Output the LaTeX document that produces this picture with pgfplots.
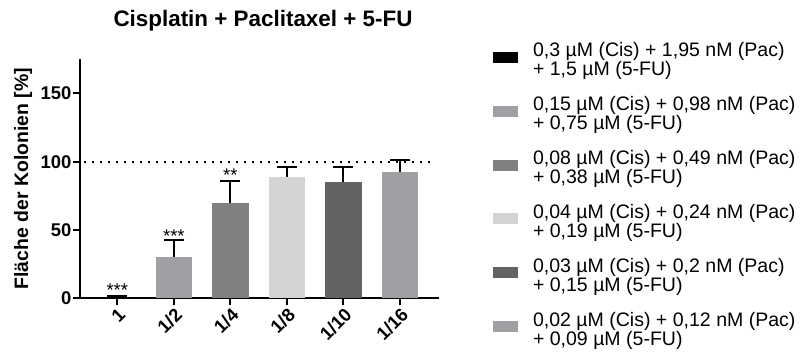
\documentclass[border=0pt]{standalone}
\usepackage{pgfplots}
\pgfplotsset{compat=1.18}
\usetikzlibrary{calc}
\usepackage{fontspec}
\setmainfont{Liberation Sans}
\definecolor{cA}{HTML}{000000}
\definecolor{cB}{HTML}{A0A0A4}
\definecolor{cC}{HTML}{808080}
\definecolor{cD}{HTML}{D4D4D4}
\definecolor{cE}{HTML}{636363}
\definecolor{cF}{HTML}{A0A0A4}
\newcommand{\lgtxt}[2]{\begin{tabular}[t]{@{}l@{}}#1\\#2\end{tabular}}
\pgfplotsset{mybar/.style={ybar, bar width=0.647, bar shift=0pt, fill=#1, draw=none,
  legend image code/.code={\path[fill=none, draw=none] (0bp,-41.5bp) rectangle (25bp,12.4bp);
    \path[fill=#1, draw=none] (0bp,-12.5bp) rectangle (25bp,-1.5bp);},
  error bars/.cd, y dir=plus, y explicit,
  error bar style={draw=black, line width=2bp, solid},
  error mark options={draw=black, line width=2bp, mark size=10bp, rotate=90, solid}}}
\begin{document}
\begin{tikzpicture}[x=1bp,y=1bp]
\begin{axis}[
  anchor=south west,
  width=359bp, height=239bp, scale only axis,
  xmin=-0.66, xmax=5.69, ymin=0, ymax=175,
  axis lines*=left,
  axis line style={line width=2bp, black},
  tick style={line width=2bp, black},
  tick align=outside, major tick length=7bp,
  xtick={0,1,2,3,4,5}, xticklabels={1,1/2,1/4,1/8,1/10,1/16},
  ytick={0,50,100,150},
  /pgf/number format/assume math mode=true,
  ticklabel style={font=\fontsize{18.5}{20}\selectfont\bfseries},
  xticklabel style={rotate=45, anchor=north east, inner sep=1bp},
  yticklabel style={inner sep=1.5bp},
  ylabel={Fläche der Kolonien [\%]},
  every axis y label/.style={at={(rel axis cs:0,0.5)}, xshift=-57bp, rotate=90, anchor=center,
    font=\fontsize{19.5}{22}\selectfont\bfseries},
  title={Cisplatin + Paclitaxel + 5-FU},
  every axis title/.style={at={(0.5,1)}, anchor=base, xshift=3.5bp, yshift=32.6bp,
    font=\fontsize{22.5}{26}\selectfont\bfseries},
  legend cell align=left,
  legend style={at={(1,1)}, anchor=north west, xshift=54bp, yshift=21.5bp,
    draw=none, fill=none, inner sep=0pt, outer sep=0pt,
    column sep=15bp, row sep=0pt,
    font=\fontsize{19.6}{17.7}\selectfont, nodes={inner sep=0pt}},
]
\coordinate (O) at (rel axis cs:0,0);
\addplot[mybar=cA] coordinates {(0,0.8) +- (0,0.7)};
\addlegendentry{\lgtxt{0,3 µM (Cis) + 1,95 nM (Pac)}{+ 1,5 µM (5-FU)}}
\addplot[mybar=cB] coordinates {(1,30) +- (0,12.8)};
\addlegendentry{\lgtxt{0,15 µM (Cis) + 0,98 nM (Pac)}{+ 0,75 µM (5-FU)}}
\addplot[mybar=cC] coordinates {(2,69.7) +- (0,16.1)};
\addlegendentry{\lgtxt{0,08 µM (Cis) + 0,49 nM (Pac)}{+ 0,38 µM (5-FU)}}
\addplot[mybar=cD] coordinates {(3,89) +- (0,7.3)};
\addlegendentry{\lgtxt{0,04 µM (Cis) + 0,24 nM (Pac)}{+ 0,19 µM (5-FU)}}
\addplot[mybar=cE] coordinates {(4,85.3) +- (0,10.5)};
\addlegendentry{\lgtxt{0,03 µM (Cis) + 0,2 nM (Pac)}{+ 0,15 µM (5-FU)}}
\addplot[mybar=cF] coordinates {(5,92.6) +- (0,8.5)};
\addlegendentry{\lgtxt{0,02 µM (Cis) + 0,12 nM (Pac)}{+ 0,09 µM (5-FU)}}
\addplot[black, line width=2bp, dash pattern=on 2bp off 6bp, forget plot] coordinates {(-0.59,100) (5.59,100)};
\node[font=\fontsize{18.5}{20}\selectfont, anchor=base] at (axis cs:0,1) {***};
\node[font=\fontsize{18.5}{20}\selectfont, anchor=base] at (axis cs:1,41) {***};
\node[font=\fontsize{18.5}{20}\selectfont, anchor=base] at (axis cs:2,85.2) {**};
\end{axis}
\pgfresetboundingbox
\path[use as bounding box] ($(O)+(-80,-59.7)$) rectangle ($(O)+(724,298.3)$);
\end{tikzpicture}
\end{document}
